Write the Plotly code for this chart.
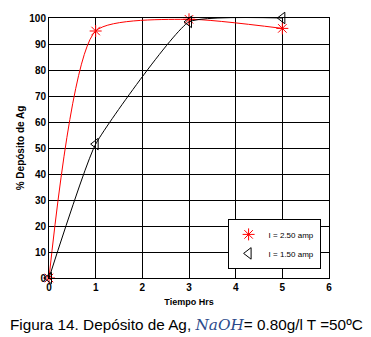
import plotly.graph_objects as go

tiempo = [0, 1, 3, 5]
dep_250 = [0, 95, 99.5, 96]
dep_150 = [0, 51.5, 98.5, 100]
names = ["I = 2.50 amp", "I = 1.50 amp"]
x_ticks = [0, 1, 2, 3, 4, 5, 6]
y_ticks = [0, 10, 20, 30, 40, 50, 60, 70, 80, 90, 100]

fig = go.Figure()
fig.add_trace(go.Scatter(
    x=tiempo, y=dep_250, name=names[0], mode="lines+markers", showlegend=False,
    line=dict(color="red", width=1, shape="spline", smoothing=0.6),
    marker=dict(symbol="asterisk-open", size=10, color="red", line=dict(color="red", width=1)),
    cliponaxis=False))
fig.add_trace(go.Scatter(
    x=tiempo, y=dep_150, name=names[1], mode="lines+markers", showlegend=False,
    line=dict(color="black", width=1, shape="spline", smoothing=0.4),
    marker=dict(symbol="triangle-left-open", size=10, color="black", line=dict(color="black", width=1)),
    cliponaxis=False))
# legend entries (markers only, as in the reference)
fig.add_trace(go.Scatter(
    x=[None], y=[None], name=names[0], mode="markers",
    marker=dict(symbol="asterisk-open", size=10, color="red", line=dict(color="red", width=1))))
fig.add_trace(go.Scatter(
    x=[None], y=[None], name=names[1], mode="markers",
    marker=dict(symbol="triangle-left-open", size=10, color="black", line=dict(color="black", width=1))))

axis_common = dict(showline=True, linecolor="black", linewidth=1, mirror=True,
                   showgrid=True, gridcolor="black", gridwidth=1, zeroline=False,
                   ticks="inside", ticklen=3, tickcolor="black",
                   tickfont=dict(family="Arial, Liberation Sans", size=10, color="black", weight="bold"))

fig.update_layout(
    width=371, height=337,
    margin=dict(l=49, r=42, t=16, b=59),
    paper_bgcolor="white", plot_bgcolor="white",
    font=dict(family="Arial, Liberation Sans", color="black"),
    showlegend=True,
    legend=dict(x=0.97, y=0.035, xanchor="right", yanchor="bottom",
                bgcolor="white", bordercolor="black", borderwidth=1,
                font=dict(size=8), itemwidth=30, tracegroupgap=0),
    xaxis=dict(range=[0, 6], tickvals=x_ticks,
               title=dict(text="<b>Tiempo Hrs</b>", font=dict(size=9), standoff=6),
               **axis_common),
    yaxis=dict(range=[0, 100], tickvals=y_ticks,
               title=dict(text="<b>% Depósito de Ag</b>", font=dict(size=10), standoff=2),
               **axis_common),
)

fig.add_annotation(
    xref="paper", yref="paper", x=-0.146, y=-0.179, xanchor="left", yanchor="middle",
    showarrow=False,
    text="Figura 14. Depósito de Ag, <i><span style='font-family:\"DejaVu Serif\",serif;color:#2B4A8B'>NaOH</span></i>= 0.80g/l T =50ºC",
    font=dict(family="Arial, Liberation Sans", size=15.3, color="black"))

fig.write_html("out.html")
